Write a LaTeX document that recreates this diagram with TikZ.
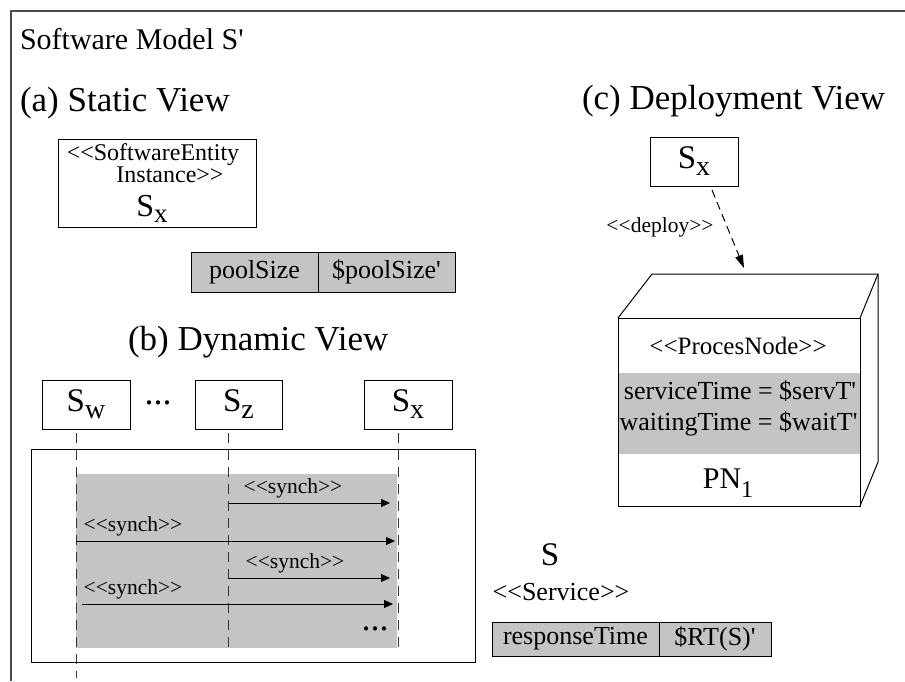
\documentclass[tikz,border=0pt]{standalone}
\usepackage{fontspec}
\newfontfamily\tmfont{Liberation Serif}
\usetikzlibrary{arrows.meta}
\definecolor{boxgray}{RGB}{196,196,196}
\newcommand{\fs}[1]{\fontsize{#1}{#1}\selectfont}
\begin{document}
\begin{tikzpicture}[x=1pt,y=-1pt,
  every node/.style={inner sep=0pt, outer sep=0pt},
  box/.style={draw, line width=1pt, fill=white, font=\tmfont},
  cell/.style={draw, line width=1pt, fill=boxgray, font={\tmfont\fs{26}}},
  heading/.style={font={\tmfont\fs{35}}, anchor=base west},
  stereo/.style={font={\tmfont\fs{24}}, anchor=base},
  msglabel/.style={font={\tmfont\fs{21.5}}},
  attr/.style={font={\tmfont\fs{26}}, anchor=base},
  dots/.style={font={\tmfont\fs{36}}, anchor=base},
  lifeline/.style={line width=0.9pt, dash pattern=on 10pt off 7pt, black!80},
  msg/.style={line width=1pt, -{Triangle[length=9pt,width=8pt]}},
  deployarrow/.style={line width=1pt, dash pattern=on 8pt off 5pt, -{Triangle[length=13pt,width=8pt]}},
  framel/.style={line width=1.2pt, black!70},
]
\useasboundingbox (0,0) rectangle (905,681);
\fill[white] (0,0) rectangle (905,681);
% outer frame
\draw[framel] (11,681) -- (11,11) -- (905,11);
% headings
\node[heading, font={\tmfont\fs{30}}] (title) at (20,49) {Software Model S\textquotesingle};
\node[heading] (hstatic) at (20,111) {(a) Static View};
\node[heading] (hdeploy) at (582,109) {(c) Deployment View};
\node[heading] (hdyn) at (128,350) {(b) Dynamic View};

% (a) static view
\node[box, minimum width=198, minimum height=88] (sbox) at (157,183) {};
\node[stereo] (se1) at (153,160) {<<SoftwareEntity};
\node[stereo] (se2) at (170,182) {Instance>>};
\node[anchor=base, font=\tmfont] (ssx) at (152,216) {\fs{32}S\raisebox{-6pt}{\fs{27}x}};
\node[cell, minimum width=127, minimum height=40] (ps1) at (254.5,272) {poolSize};
\node[cell, minimum width=137, minimum height=40] (ps2) at (386.5,272) {\$poolSize\textquotesingle};

% (b) dynamic view
\node[box, minimum width=444, minimum height=213] (dframe) at (253,555.5) {};
\fill[boxgray] (76,474) rectangle (397,648);
\node[box, minimum width=88, minimum height=49] (sw) at (86,404.5) {\fs{33}S\raisebox{-7pt}{\fs{28}w}};
\node[box, minimum width=87, minimum height=49] (sz) at (238.5,404.5) {\fs{33}S\raisebox{-7pt}{\fs{28}z}};
\node[box, minimum width=88, minimum height=49] (sx) at (408,404.5) {\fs{33}S\raisebox{-7pt}{\fs{28}x}};
\node[dots] (dots1) at (158,404) {...};
\coordinate (swend) at (76,678);
\coordinate (szend) at (228,652);
\coordinate (sxend) at (398,652);
\draw[lifeline] ([xshift=-10pt,yshift=-4pt]sw.south) -- (swend);
\draw[lifeline] ([xshift=-10.5pt,yshift=-4pt]sz.south) -- (szend);
\draw[lifeline] ([xshift=-10pt,yshift=-4pt]sx.south) -- (sxend);
\coordinate (m1s) at (228,503); \coordinate (m1e) at (390,503);
\coordinate (m2s) at (76,541);  \coordinate (m2e) at (395,541);
\coordinate (m3s) at (228,578); \coordinate (m3e) at (390,578);
\coordinate (m4s) at (82,604);  \coordinate (m4e) at (393,604);
\draw[msg] (m1s) -- (m1e);
\draw[msg] (m2s) -- (m2e);
\draw[msg] (m3s) -- (m3e);
\draw[msg] (m4s) -- (m4e);
\node[msglabel] (l1) at (293,488) {<<synch>>};
\node[msglabel] (l2) at (133,526) {<<synch>>};
\node[msglabel] (l3) at (295,563) {<<synch>>};
\node[msglabel] (l4) at (133,589) {<<synch>>};
\node[dots] (dots2) at (375,630) {...};

% (c) deployment view
\node[box, minimum width=88, minimum height=49] (dsx) at (694,161.5) {\fs{33}S\raisebox{-7pt}{\fs{28}x}};
\coordinate (dstart) at (712,190);
\coordinate (dend) at (744,268);
\draw[deployarrow] (dstart) -- (dend);
\node[msglabel] (ldeploy) at (660,227) {<<deploy>>};
\coordinate (btl) at (652,274);
\coordinate (btr) at (878,274);
\coordinate (bbr) at (878,462);
\node[minimum width=242, minimum height=188] (pn) at (739,412) {};
\fill[boxgray] (618,373) rectangle (860,454);
\draw[line width=1pt] (pn.north west) rectangle (pn.south east);
\draw[line width=1pt, line join=round] (pn.north west) -- (btl) -- (btr) -- (pn.north east);
\draw[line width=1pt, line join=round] (btr) -- (bbr) -- (pn.south east);
\node[stereo, font={\tmfont\fs{25}}] (pnst) at (738,354) {<<ProcesNode>>};
\node[attr] (st) at (740,399) {serviceTime = \$servT\textquotesingle};
\node[attr] (wt) at (738.5,430) {waitingTime = \$waitT\textquotesingle};
\node[anchor=base, font=\tmfont] (pnname) at (728,488) {\fs{30}PN\raisebox{-9pt}{\fs{24}1}};

% service
\node[anchor=base, font={\tmfont\fs{33}}] (ssvc) at (550,565) {S};
\node[attr] (svcst) at (561,600) {<<Service>>};
\node[cell, minimum width=167, minimum height=34] (rt1) at (575.5,639) {responseTime};
\node[cell, minimum width=112, minimum height=34] (rt2) at (715,639) {\$RT(S)\textquotesingle};
\end{tikzpicture}
\end{document}
